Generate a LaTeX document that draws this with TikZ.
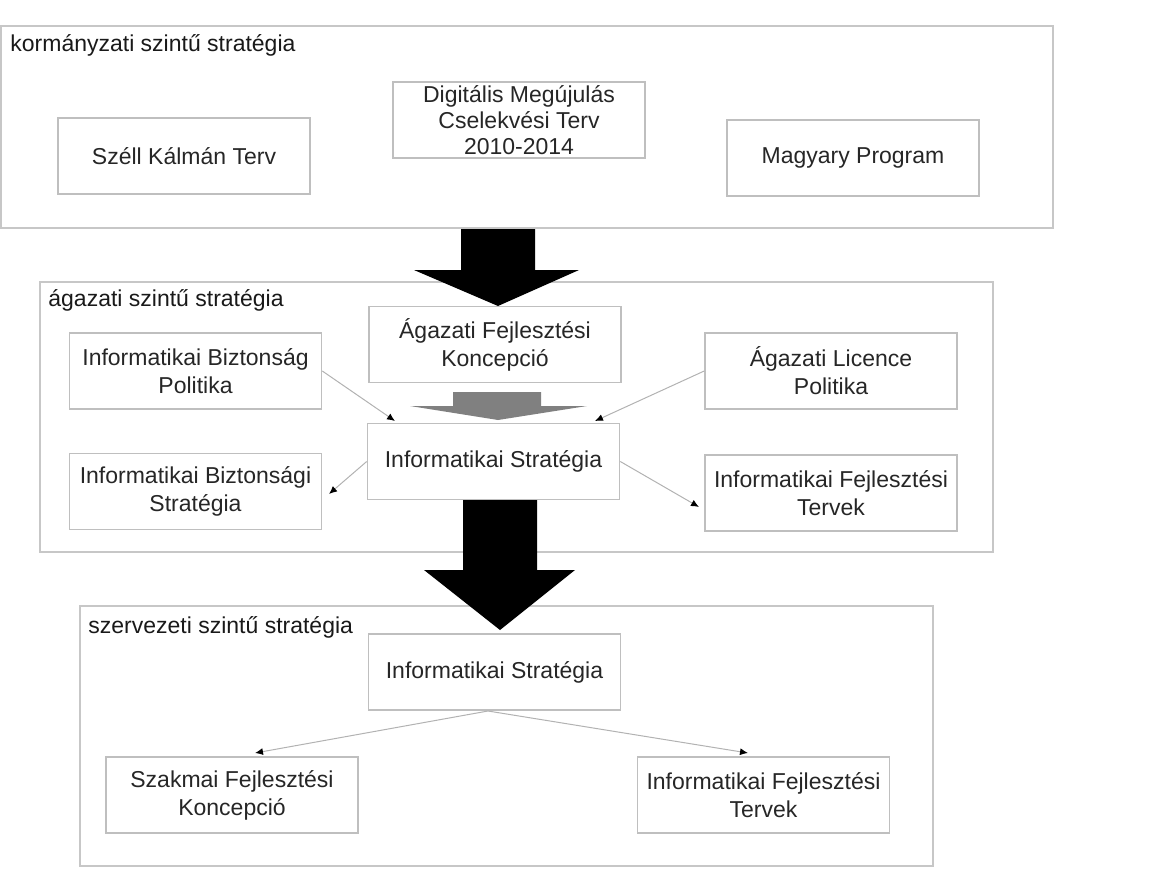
\documentclass[tikz,border=0pt]{standalone}
\usepackage{fontspec}
\setmainfont{Liberation Sans}
\usetikzlibrary{arrows.meta}
\tikzstyle{level}=[rectangle,draw=black!22,line width=0.8pt,inner sep=0pt]
\tikzstyle{doc}=[rectangle,draw=black!25,line width=0.8pt,inner sep=0pt,minimum width=126pt,minimum height=38pt,align=center,text=black!85,font=\fontsize{11.5}{14}\selectfont]
\tikzstyle{title}=[anchor=west,inner sep=0pt,text=black!90,font=\fontsize{11.5}{14}\selectfont]
\tikzstyle{link}=[draw=black!30,line width=0.5pt,-{Latex[length=4pt,width=3.5pt,black]}]

\begin{document}
\begin{tikzpicture}[x=0.5pt,y=-0.5pt]
		\useasboundingbox (0,0) rectangle (1152,884);
		\node[level,minimum width=526pt,minimum height=101pt] (gov) at (527,127) {};
		\node[level,minimum width=476.5pt,minimum height=135pt] (sector) at (516.5,417) {};
		\node[level,minimum width=426.5pt,minimum height=130pt] (org) at (506.5,736) {};
		\node[title] (lgov) at (10,45) {kormányzati szintű stratégia};
		\node[title] (lsector) at (48,300) {ágazati szintű stratégia};
		\node[title] (lorg) at (88,627) {szervezeti szintű stratégia};
		
		\node[doc] (szell) at (184,156) {Széll Kálmán Terv};
		\node[doc,font=\fontsize{11.5}{13}\selectfont] (dmcs) at (519,120) {Digitális Megújulás\\Cselekvési Terv\\2010-2014};
		\node[doc] (magyary) at (853,158) {Magyary Program};
		
		\node[doc] (afk) at (495,344.5) {Ágazati Fejlesztési\\Koncepció};
		\node[doc] (ibp) at (195.5,371) {Informatikai Biztonság\\Politika};
		\node[doc] (alp) at (831,371) {Ágazati Licence\\Politika};
		\node[doc] (is) at (493.5,461.5) {Informatikai Stratégia};
		\node[doc] (ibs) at (195.5,491.5) {Informatikai Biztonsági\\Stratégia};
		\node[doc] (ift) at (831,493) {Informatikai Fejlesztési\\Tervek};
		
		\node[doc] (ois) at (494.5,672) {Informatikai Stratégia};
		\node[doc] (szfk) at (232,795) {Szakmai Fejlesztési\\Koncepció};
		\node[doc] (oift) at (763.5,795) {Informatikai Fejlesztési\\Tervek};
		
		% block arrows between the levels
		\fill[black] (461,229) -- (535,229) -- (535,270) -- (579,270) -- (498,306) -- (414,270) -- (461,270) -- cycle;
		\fill[black!50] (453,392) -- (541,392) -- (541,406) -- (587,406) -- (498,420) -- (410,406) -- (453,406) -- cycle;
		\fill[black] (463,500) -- (537,500) -- (537,570) -- (575,570) -- (500,630) -- (424,570) -- (463,570) -- cycle;
		
		\coordinate (isl) at (395,421);
		\coordinate (isr) at (595,421);
		\coordinate (ibsr) at (329,494);
		\coordinate (iftl) at (699,507);
		\coordinate (oisb) at (488,711);
		\coordinate (szfkt) at (255,753);
		\coordinate (oiftt) at (748,753);
		
		\draw[link] (ibp.east) -- (isl);
		\draw[link] (alp.west) -- (isr);
		\draw[link] (is.west) -- (ibsr);
		\draw[link] (is.east) -- (iftl);
		\draw[link] (oisb) -- (szfkt);
		\draw[link] (oisb) -- (oiftt);
\end{tikzpicture}
\end{document}
